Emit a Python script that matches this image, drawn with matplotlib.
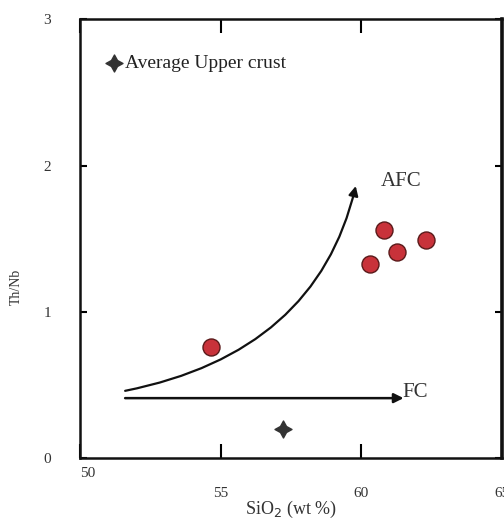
import matplotlib.pyplot as plt
from matplotlib.path import Path
from matplotlib.patches import FancyArrowPatch
from matplotlib.transforms import ScaledTranslation

plt.rcParams['font.family'] = ['Liberation Serif', 'DejaVu Serif']

# samples
sio2 = [54.65, 60.3, 60.8, 61.25, 62.3]
th_nb = [0.76, 1.33, 1.56, 1.41, 1.49]

# average upper crust
crust_sio2 = [57.2]
crust_th_nb = [0.20]

# trend arrows (start, control, end)
afc_x = [51.6, 58.4, 59.8]
afc_y = [0.46, 0.72, 1.86]
fc_x = [51.6, 61.5]
fc_y = [0.41, 0.41]

xticks = [50, 55, 60, 65]
yticks = [0, 1, 2, 3]

fig = plt.figure(figsize=(5.04, 5.20), dpi=100)
ax = fig.add_axes([0.159, 0.119, 0.837, 0.844])

ax.scatter(sio2, th_nb, s=150, color='#c8323a', edgecolor='#5a1a1a',
           linewidth=1.0, zorder=3)
ax.scatter(crust_sio2, crust_th_nb, marker=(4, 1, 0), s=150, color='#333333',
           zorder=3)

# legend entry drawn by hand
ax.scatter([51.2], [2.70], marker=(4, 1, 0), s=150, color='#333333', zorder=3)
ax.text(51.6, 2.70, 'Average Upper crust', fontsize=14, va='center',
        ha='left', color='#222222')

afc_path = Path(list(zip(afc_x, afc_y)), [Path.MOVETO, Path.CURVE3, Path.CURVE3])
ax.add_patch(FancyArrowPatch(path=afc_path, arrowstyle='-|>', mutation_scale=14,
                             color='#111111', linewidth=1.6, zorder=2))
ax.annotate('', xy=(fc_x[1], fc_y[1]), xytext=(fc_x[0], fc_y[0]),
            arrowprops=dict(arrowstyle='-|>', color='#111111', lw=1.8,
                            mutation_scale=14, shrinkA=0, shrinkB=0))
ax.text(60.7, 1.89, 'AFC', fontsize=15, color='#333333', ha='left', va='center')
ax.text(61.45, 0.45, 'FC', fontsize=15, color='#333333', ha='left', va='center')

ax.set_xlim(50, 65)
ax.set_ylim(0, 3)
ax.set_xticks(xticks)
ax.set_yticks(yticks)
ax.set_xticklabels([str(t) for t in xticks], fontsize=11, color='#333333')
ax.set_yticklabels([str(t) for t in yticks], fontsize=11, color='#333333')
ax.tick_params(axis='x', direction='in', length=10, width=1.5, top=True, pad=21)
ax.tick_params(axis='y', direction='in', length=5, width=1.5, right=True, pad=21)
for s in ax.spines.values():
    s.set_linewidth(1.8)
    s.set_color('#111111')
ax.spines['right'].set_linewidth(2.6)

ax.set_xlabel('SiO$_2$ (wt %)', fontsize=13, color='#333333', labelpad=-1)
ax.set_ylabel('Th/Nb', fontsize=10, color='#333333', labelpad=18)
ax.yaxis.set_label_coords(-0.135, 0.39)

# the "50" label sits just under the corner
lab = ax.get_xticklabels()[0]
lab.set_transform(lab.get_transform() + ScaledTranslation(0.08, 0.2, fig.dpi_scale_trans))

fig.savefig('out.png', dpi=100, facecolor='white')
